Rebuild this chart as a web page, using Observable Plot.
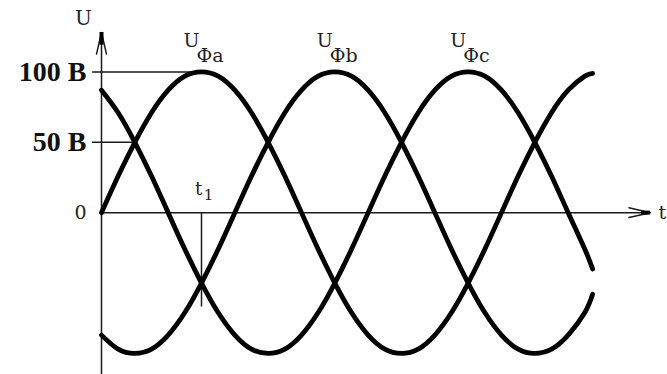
<!DOCTYPE html>
<html><head><meta charset="utf-8">
<script src="https://cdn.jsdelivr.net/npm/d3@7"></script>
<script src="https://cdn.jsdelivr.net/npm/@observablehq/plot@0.6"></script>
<style>html,body{margin:0;padding:0;background:#fff;} svg{display:block;}</style>
</head><body><div id="chart"></div>
<script>
// time in electrical degrees
const t = [0,15,30,45,60,75,90,105,120,135,150,165,180,195,210,225,240,255,270,285,300,315,330,345,360,375,390,405,420,435,442];
const uA = [0,26,50,71,87,97,100,97,87,71,50,26,0,-26,-50,-71,-87,-97,-100,-97,-87,-71,-50,-26,0,26,50,71,87,97,99];
const uB = [-87,-97,-100,-97,-87,-71,-50,-26,0,26,50,71,87,97,100,97,87,71,50,26,0,-26,-50,-71,-87,-97,-100,-97,-87,-71,-58];
const uC = [87,71,50,26,0,-26,-50,-71,-87,-97,-100,-97,-87,-71,-50,-26,0,26,50,71,87,97,100,97,87,71,50,26,0,-26,-40];
const phaseNames = ["a","b","c"];
const phasePeaks = [90,210,330];
const tickValues = [100,50];
const tickLabels = ["100 В","50 В"];
const zeroLabel = "0";
const t1 = 90;

const series = [["a",uA],["b",uB],["c",uC]].flatMap(([p,arr]) => t.map((x,i)=>({phase:p,t:x,u:arr[i]})));
const labels = phaseNames.map((p,i)=>({phase:p, t:phasePeaks[i]}));
const ticks = tickValues.map((v,i)=>({v, label:tickLabels[i]}));
const crossing50 = 30;

const ink = "#1a1a1a";
const serif = "'Liberation Serif', serif";
const serif2 = "'DejaVu Serif', 'Liberation Serif', serif";
const chart = Plot.plot({
  width: 667, height: 374,
  marginLeft: 101, marginRight: 16, marginTop: 32, marginBottom: 0,
  x: {domain:[0,495], axis:null},
  y: {domain:[-115,128], axis:null},
  style: {fontFamily:serif2, background:"#fff", color:"#000"},
  marks: [
    Plot.ruleY(ticks, {y:"v", x1:-8, x2:(d)=> d.v===100 ? 90 : crossing50, stroke:ink, strokeWidth:1.5}),
    Plot.ruleX([t1], {x:d=>d, y1:0, y2:-67, stroke:ink, strokeWidth:1.5}),
    Plot.arrow([0], {x1:0, y1:0, x2:494, y2:0, stroke:ink, strokeWidth:1.5, headLength:22, headAngle:26}),
    Plot.arrow([0], {x1:0, y1:-115, x2:0, y2:128, stroke:ink, strokeWidth:1.5, headLength:22, headAngle:26}),
    Plot.ruleY([0], {x1:486, x2:494, stroke:"#000", strokeWidth:4}),
    Plot.ruleX([0], {y1:119, y2:128, stroke:"#000", strokeWidth:4}),
    Plot.line(series, {x:"t", y:"u", z:"phase", curve:"natural", stroke:"#000", strokeWidth:4.8}),
    Plot.text(ticks, {x:0, y:"v", text:"label", dx:-15, textAnchor:"end", fontSize:28, fontWeight:"bold", fill:"#111", fontFamily:serif}),
    Plot.text([zeroLabel], {x:0, y:0, text:d=>d, dx:-21, textAnchor:"middle", fontSize:19, fill:"#222", fontFamily:serif2}),
    Plot.text(["U"], {x:0, y:128, text:d=>d, dx:-18, dy:-14, fontSize:20, fill:"#222", fontFamily:serif2}),
    Plot.text(["t"], {x:494, y:0, text:d=>d, dx:8, dy:0, textAnchor:"start", fontSize:19, fill:"#222", fontFamily:serif2}),
    Plot.text(["t"], {x:t1, y:0, text:d=>d, dx:-3, dy:-23, fontSize:18, fill:"#222", fontFamily:serif2}),
    Plot.text(["1"], {x:t1, y:0, text:d=>d, dx:7, dy:-17, fontSize:15, fill:"#222", fontFamily:serif2}),
    Plot.text(labels, {x:"t", y:100, text:()=>"U", dx:-18, dy:-31, textAnchor:"start", fontSize:19, fill:"#222", fontFamily:serif2}),
    Plot.text(labels, {x:"t", y:100, text:d=>"Ф"+d.phase, dx:-5, dy:-16, textAnchor:"start", fontSize:19, fill:"#222", fontFamily:serif2})
  ]
});
document.getElementById("chart").append(chart);
</script></body></html>
